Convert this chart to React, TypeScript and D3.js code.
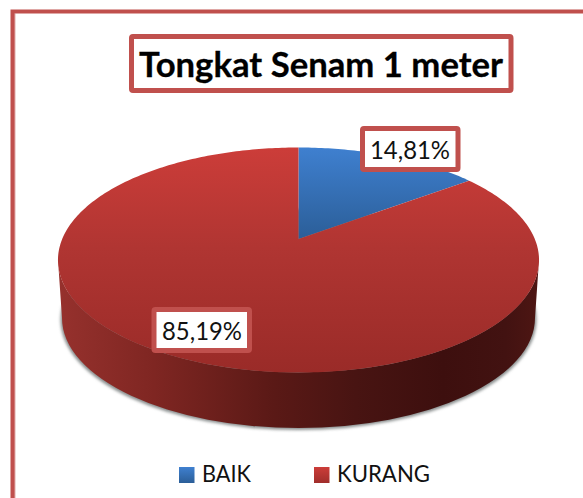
import React from "react";
import * as d3 from "d3";

const categories = ["BAIK", "KURANG"];
const values = [14.81, 85.19];
const valueLabels = ["14,81%", "85,19%"];
const title = "Tongkat Senam 1 meter";

const W = 583, H = 498;
const FRAME = "#c0504d";
const font = "Lato, Carlito, 'Noto Sans', sans-serif";

// perspective disc: unit circle -> screen
const cx = 298.5, cy = 260;
const persp = { a: 236.3, b: 112.5, c: -21, k: -0.1867 };
const project = (t: number): [number, number] => {
  const u = Math.sin(t), v = -Math.cos(t);
  const d = 1 + persp.k * v;
  return [cx + (persp.a * u) / d, cy + (persp.b * v + persp.c) / d];
};
const centre: [number, number] = [cx, cy + persp.c];
const pieGen = d3.pie<number>().sort(null).value((d) => d);
const slices = pieGen(values);
const line = d3.line();
const slicePath = (s: d3.PieArcDatum<number>) => {
  const n = Math.ceil((s.endAngle - s.startAngle) * 60);
  const pts = d3.range(n + 1).map((i) =>
    project(s.startAngle + ((s.endAngle - s.startAngle) * i) / n));
  return line([centre, ...pts]) + "Z";
};

// side wall
const topRx = 240.5, topRy = 112.5;
const botCy = 318, botRx = 236.5, botRy = 110;
const wallPath =
  `M${cx - topRx},${cy} A${topRx},${topRy} 0 0 0 ${cx + topRx},${cy} ` +
  `L${cx + botRx},${botCy} A${botRx},${botRy} 0 0 1 ${cx - botRx},${botCy} Z`;

const wallStops: [number, string][] = [
  [0, "#96312d"], [0.2, "#7f2622"], [0.45, "#5a1916"],
  [0.62, "#481412"], [0.8, "#3d0f0e"], [0.93, "#421211"], [1, "#4e1613"],
];

const LabelBox = ({ x, y, w, h, text, tx, ty }: any) => (
  <g>
    <rect x={x} y={y} width={w} height={h} rx={1.5} fill="#fff" stroke={FRAME} strokeWidth={5} />
    <text x={tx} y={ty} fontFamily={font} fontSize={25.5} fill="#111" textAnchor="middle"
      textLength={80} lengthAdjust="spacingAndGlyphs">{text}</text>
  </g>
);

const legendX = [179, 314];
const legendW = [49, 93];

export default function App() {
  return (
    <svg width={W} height={H} viewBox={`0 0 ${W} ${H}`}
      style={{ position: "absolute", left: 0, top: 0, background: "#fff" }}>
      <defs>
        <linearGradient id="redG" gradientUnits="userSpaceOnUse" x1={0} y1={147} x2={0} y2={372}>
          <stop offset="0" stopColor="#cc3d39" />
          <stop offset="0.45" stopColor="#b03532" />
          <stop offset="1" stopColor="#9a2b28" />
        </linearGradient>
        <linearGradient id="blueG" gradientUnits="userSpaceOnUse" x1={0} y1={147} x2={0} y2={239}>
          <stop offset="0" stopColor="#3f80d0" />
          <stop offset="1" stopColor="#2b5e98" />
        </linearGradient>
        <linearGradient id="wallG" gradientUnits="userSpaceOnUse" x1={cx - topRx} y1={0} x2={cx + topRx} y2={0}>
          {wallStops.map(([o, c]) => <stop key={o} offset={o} stopColor={c} />)}
        </linearGradient>
        <linearGradient id="blueLeg" x1={0} y1={0} x2={0} y2={1}>
          <stop offset="0" stopColor="#3f80d0" /><stop offset="1" stopColor="#2b5e98" />
        </linearGradient>
        <linearGradient id="redLeg" x1={0} y1={0} x2={0} y2={1}>
          <stop offset="0" stopColor="#cc3d39" /><stop offset="1" stopColor="#a02e2b" />
        </linearGradient>
        <filter id="blur" x="-5%" y="-5%" width="110%" height="110%">
          <feGaussianBlur stdDeviation={1.6} />
        </filter>
      </defs>

      {/* frame */}
      <path d={`M12.5,${H + 5} V11.5 H${W + 5}`} fill="none" stroke={FRAME} strokeWidth={4} />
      <path d={`M14.8,${H + 5} V13.5`} fill="none" stroke={FRAME} strokeWidth={1.2} opacity={0.6} />

      {/* title */}
      <rect x={131.5} y={36.5} width={379.5} height={54} rx={1.5} fill="#fff" stroke={FRAME} strokeWidth={5} />
      <text x={321} y={76.7} textAnchor="middle" fontFamily={font} fontWeight={700} fontSize={35} fill="#000"
        stroke="#000" strokeWidth={0.3} textLength={364} lengthAdjust="spacingAndGlyphs">{title}</text>

      {/* pie */}
      <ellipse cx={cx} cy={botCy + 1.5} rx={botRx + 1.5} ry={botRy + 0.5} fill="#8a8f8f" filter="url(#blur)" />
      <path d={wallPath} fill="url(#wallG)" />
      {slices.map((s, i) => (
        <path key={categories[i]} d={slicePath(s)} fill={i === 0 ? "url(#blueG)" : "url(#redG)"} />
      ))}

      {/* value labels */}
      <LabelBox x={362.5} y={128.5} w={95.5} h={41} text={valueLabels[0]} tx={410} ty={158.7} />
      <LabelBox x={154} y={309.5} w={95.5} h={41} text={valueLabels[1]} tx={202} ty={339.5} />

      {/* legend */}
      {categories.map((c, i) => (
        <g key={c}>
          <rect x={legendX[i]} y={467} width={15.5} height={16} fill={i === 0 ? "url(#blueLeg)" : "url(#redLeg)"} />
          <text x={legendX[i] + 23} y={482} fontFamily={font} fontSize={23} fill="#111"
            textLength={legendW[i]} lengthAdjust="spacingAndGlyphs">{c}</text>
        </g>
      ))}
    </svg>
  );
}
